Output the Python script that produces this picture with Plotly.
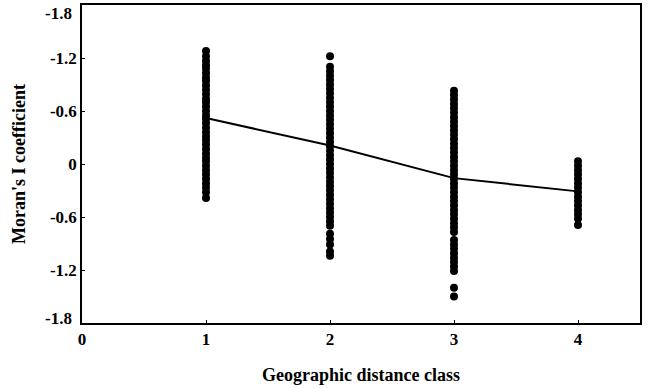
import plotly.graph_objects as go

class1 = [1.28, 1.22, 1.17, 1.12, 1.08, 1.03, 0.98, 0.94, 0.89, 0.84, 0.79, 0.74, 0.70, 0.65,
          0.60, 0.55, 0.51, 0.46, 0.41, 0.36, 0.31, 0.27, 0.22, 0.17, 0.12, 0.07, 0.03, -0.02,
          -0.07, -0.12, -0.17, -0.22, -0.27, -0.32, -0.385]
class2 = [1.22, 1.10, 1.05, 1.00, 0.95, 0.90, 0.85, 0.80, 0.75, 0.70, 0.65, 0.60, 0.55, 0.50,
          0.45, 0.40, 0.35, 0.30, 0.25, 0.20, 0.15, 0.10, 0.05, 0.00, -0.05, -0.10, -0.15,
          -0.20, -0.25, -0.30, -0.35, -0.40, -0.45, -0.50, -0.55, -0.60, -0.65, -0.70,
          -0.79, -0.85, -0.91, -0.99, -1.04]
class3 = [0.83, 0.78, 0.73, 0.68, 0.63, 0.58, 0.53, 0.48, 0.43, 0.38, 0.33, 0.28, 0.23, 0.18,
          0.13, 0.08, 0.03, -0.02, -0.07, -0.12, -0.17, -0.22, -0.27, -0.32, -0.37, -0.42,
          -0.47, -0.52, -0.57, -0.62, -0.67, -0.72, -0.77, -0.86, -0.91, -0.96, -1.01,
          -1.06, -1.11, -1.16, -1.21, -1.40, -1.50]
class4 = [0.03, -0.02, -0.07, -0.12, -0.17, -0.22, -0.27, -0.32, -0.37, -0.42, -0.47, -0.52,
          -0.57, -0.62, -0.69]
classes = [1, 2, 3, 4]
mean_line = [0.52, 0.21, -0.16, -0.31]

tick_vals = [1.8, 1.2, 0.6, 0, -0.6, -1.2, -1.8]
tick_text = ["-1.8", "-1.2", "-0.6", "0", "-0.6", "-1.2", "-1.8"]
x_ticks = [0, 1, 2, 3, 4]

fig = go.Figure()
for cls, vals in zip(classes, [class1, class2, class3, class4]):
    fig.add_trace(go.Scatter(x=[cls] * len(vals), y=vals, mode="markers",
                             marker=dict(color="black", size=8), showlegend=False))
fig.add_trace(go.Scatter(x=classes, y=mean_line, mode="lines",
                         line=dict(color="black", width=2), showlegend=False))

tick_font = dict(family="Liberation Serif", size=17, color="black")
title_font = dict(family="Liberation Serif", size=18, color="black")
fig.update_layout(
    width=649, height=388,
    margin=dict(l=82, r=9, t=5, b=65),
    paper_bgcolor="white", plot_bgcolor="white",
    font=tick_font,
)

# inner ticks as axis labels; the two end labels sit slightly inside the frame as in the reference
inner_vals = tick_vals[1:-1]
inner_text = tick_text[1:-1]
for val, txt, shift in [(tick_vals[0], tick_text[0], -8), (tick_vals[-1], tick_text[-1], 5)]:
    fig.add_annotation(x=0, xref="paper", y=val, yref="y", text=f"<b>{txt}</b>",
                       showarrow=False, xanchor="right", yanchor="middle",
                       xshift=-8, yshift=shift, font=tick_font)

fig.update_xaxes(range=[0, 4.5], tickvals=x_ticks, ticktext=[f"<b>{v}</b>" for v in x_ticks],
                 tickfont=tick_font, automargin=False,
                 showgrid=False, zeroline=False, showline=True, linecolor="black", linewidth=1.5,
                 mirror=True, ticks="inside", ticklen=3, tickcolor="black",
                 title=dict(text="<b>Geographic distance class</b>", font=title_font, standoff=20))
fig.update_yaxes(range=[-1.8, 1.8], tickvals=tick_vals, ticktext=[""] + [f"<b>{t}</b>" for t in inner_text] + [""],
                 tickfont=tick_font, automargin=False,
                 showgrid=False, zeroline=False, showline=True, linecolor="black", linewidth=1.5,
                 mirror=True, ticks="inside", ticklen=3, tickcolor="black",
                 title=dict(text="<b>Moran's I coefficient</b>", font=title_font, standoff=20))

fig.write_html("out.html")
